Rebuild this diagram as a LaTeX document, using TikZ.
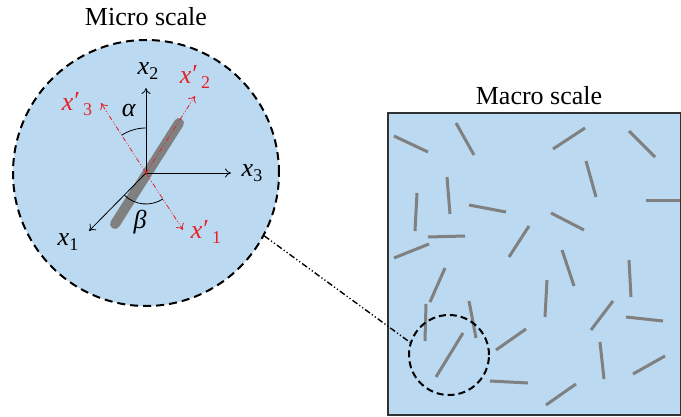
\documentclass[tikz,border=0pt]{standalone}
\usepackage{fontspec}
\setmainfont{Liberation Serif}
\usetikzlibrary{arrows.meta}
\definecolor{fillblue}{RGB}{187,217,240}
\definecolor{fibergray}{RGB}{128,128,128}
\definecolor{axred}{RGB}{232,32,38}
\definecolor{rectgray}{RGB}{50,50,50}
\newcommand{\lab}[2]{\textit{#1}\raisebox{-0.45ex}{\fontsize{9}{9}\selectfont #2}}
\newcommand{\plab}[2]{\textit{x}\kern0.03em\raisebox{0.1ex}{′}\kern0.12em\raisebox{-0.45ex}{\fontsize{9}{9}\selectfont #2}}
\begin{document}
\begin{tikzpicture}[x=0.5pt,y=0.5pt, font=\fontsize{13}{15}\selectfont,
  fiber/.style={draw=fibergray, line width=1.5pt},
  axis/.style={-{To[length=3pt,width=4.5pt]}, line width=0.4pt},
  raxis/.style={axred, -{To[length=3pt,width=4.5pt]}, line width=0.4pt,
    dash pattern=on 2.5pt off 1pt on 0.4pt off 1pt on 0.4pt off 1pt},
  lbl/.style={inner sep=0pt},
  conn/.style={line width=0.7pt,
    dash pattern=on 3pt off 1.2pt on 0.6pt off 1.2pt on 0.6pt off 1.2pt}]
\useasboundingbox (0,0) rectangle (681,-417);
% micro scale
\node[circle, draw, fill=fillblue, minimum size=133pt, inner sep=0pt,
      line width=1pt, dash pattern=on 4pt off 2.5pt] (micro) at (146,-173) {};
\node[lbl] (microtitle) at (146,-17) {Micro scale};
\draw[fibergray, line width=5pt, line cap=round] (179,-123) -- (115,-224);
\coordinate (O) at (146,-173);
\coordinate (e1) at (89,-231);
\coordinate (e2) at (146,-88);
\coordinate (e3) at (231,-173);
\coordinate (r1) at (183,-230);
\coordinate (r2) at (195,-96);
\coordinate (r3) at (101,-103);
\draw[axis] (O) -- (e1);
\draw[axis] (O) -- (e2);
\draw[axis] (O) -- (e3);
\draw[raxis] (O) -- (r1);
\draw[raxis] (O) -- (r2);
\draw[raxis] (O) -- (r3);
\draw[line width=0.4pt] (O) ++(90:45) arc[start angle=90, end angle=122.7, radius=45];
\draw[line width=0.4pt] (O) ++(226:31) arc[start angle=226, end angle=303, radius=31];
\node[lbl] (lx1) at (68,-242) {\lab{x}{1}};
\node[lbl] (lx2) at (148,-71) {\lab{x}{2}};
\node[lbl] (lx3) at (252,-173) {\lab{x}{3}};
\node[lbl, text=axred] (lr1) at (206,-232) {\plab{x}{1}};
\node[lbl, text=axred] (lr2) at (195,-77) {\plab{x}{2}};
\node[lbl, text=axred] (lr3) at (77,-104) {\plab{x}{3}};
\node[lbl] (la) at (129,-111) {\textit{α}};
\node[lbl] (lb) at (140,-222) {\textit{β}};
% macro scale
\node[lbl] (macrotitle) at (539,-96) {Macro scale};
\filldraw[fill=fillblue, draw=rectgray, line width=0.7pt] (388,-113) rectangle (680.6,-415);
\foreach \ax/\ay/\bx/\by in {
 394/136/428/152, 456/123/474/155, 553/149/585/128, 629/131/655/157,
 586/161/596/197, 646/201/680/201, 447/177/450/214, 417/193/415/231,
 469/205/506/212, 551/213/584/230, 428/237/465/236, 394/258/429/244,
 529/226/509/257, 562/250/574/286, 445/268/430/302, 629/260/631/297,
 547/280/545/317, 426/304/425/341, 469/301/476/338, 613/301/591/330,
 626/317/663/321, 526/329/496/350, 463/333/436/377, 600/342/604/379,
 665/356/633/374, 490/381/528/383, 576/384/546/405}
 \draw[fiber] (\ax,-\ay) -- (\bx,-\by);
\node[circle, draw, minimum size=40pt, inner sep=0pt, line width=1pt,
      dash pattern=on 3.5pt off 2pt] (zoomc) at (449,-355) {};
\draw[conn] (micro.-28.3) -- (zoomc.162.5);
\end{tikzpicture}
\end{document}
